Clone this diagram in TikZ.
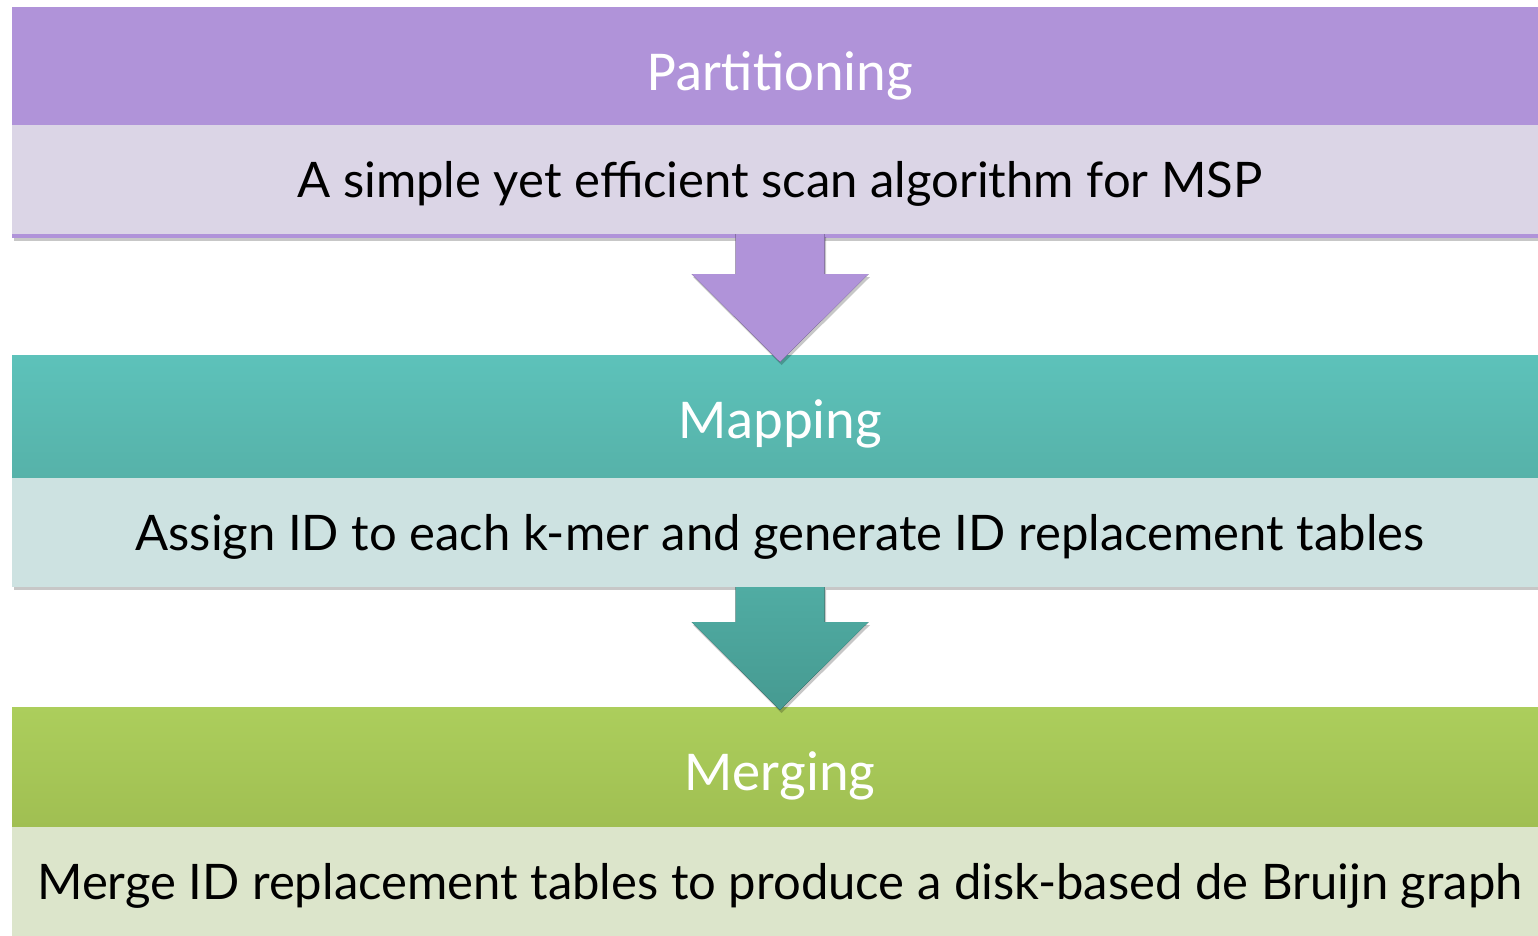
\documentclass[tikz,border=0pt]{standalone}
\usepackage{fontspec}
\setmainfont{Lato}
\newfontfamily\headfont{Carlito}
\usetikzlibrary{calc,shadows}
\definecolor{partpurple}{HTML}{B093D9}
\definecolor{partlilac}{HTML}{DBD5E6}
\definecolor{mapteal}{HTML}{5DC2BA}
\definecolor{maptealdark}{HTML}{56B2A9}
\definecolor{mappale}{HTML}{CDE2E1}
\definecolor{maparrow}{HTML}{50ACA3}
\definecolor{maparrowdark}{HTML}{469A91}
\definecolor{mergegreen}{HTML}{ACCE5C}
\definecolor{mergegreendark}{HTML}{A0BF52}
\definecolor{mergepale}{HTML}{DCE5CB}

\begin{document}
\begin{tikzpicture}[x=1pt, y=-1pt,
    softshadow/.style={drop shadow={shadow xshift=1.5pt, shadow yshift=-3pt,
        fill=black, opacity=0.22}},
    band/.style={anchor=north west, minimum width=1536pt, inner sep=0pt,
        outer sep=0pt, softshadow},
    headband/.style={band, text=white, text height=36pt, text depth=0pt,
        font=\headfont\fontsize{56.4}{60}\selectfont},
    subband/.style={band, minimum height=109pt, text=black, text height=35pt,
        text depth=0pt, font=\fontsize{49}{54}\selectfont}]
  \useasboundingbox (0,0) rectangle (1538,936);
  %% --- Partitioning ---
  \node[headband, minimum height=118pt, fill=partpurple] (parthead) at (12,7)
    {\raisebox{-7pt}{Partitioning}};
  \node[subband, fill=partlilac] (partsub) at (parthead.south west)
    {A simple yet efficient scan algorithm for MSP};
  \fill[partpurple, softshadow] (partsub.south west)
    rectangle ($(partsub.south east)+(0,4)$);
  %% --- Mapping ---
  \node[headband, minimum height=123pt, top color=mapteal,
    bottom color=maptealdark] (maphead) at (12,355)
    {\raisebox{-3.5pt}{Mapping}};
  \node[subband, fill=mappale] (mapsub) at (maphead.south west)
    {Assign ID to each k-mer and generate ID replacement tables};
  %% --- Merging ---
  \node[headband, minimum height=120pt, top color=mergegreen,
    bottom color=mergegreendark] (mergehead) at (12,707)
    {\raisebox{-5pt}{Merging}};
  \node[subband, fill=mergepale] (mergesub) at (mergehead.south west)
    {Merge ID replacement tables to produce a disk-based de Bruijn graph};
  %% --- Block arrows between the stages ---
  \foreach \from/\to/\dip/\topcol/\botcol in
      {partsub/maphead/7/partpurple/partpurple,
       mapsub/mergehead/3/maparrow/maparrowdark} {
    \coordinate (top) at (\from.south);
    \coordinate (tip) at ($(\to.north)+(0,\dip)$);
    \fill[top color=\topcol, bottom color=\botcol, softshadow]
      ($(top)+(-44.5,0)$) -- ($(tip)+(-44.5,-88)$) -- ++(-44,0) -- (tip)
      -- ++(88.5,-88) -- ++(-44,0) -- ($(top)+(44.5,0)$) -- cycle;
  }
\end{tikzpicture}
\end{document}
